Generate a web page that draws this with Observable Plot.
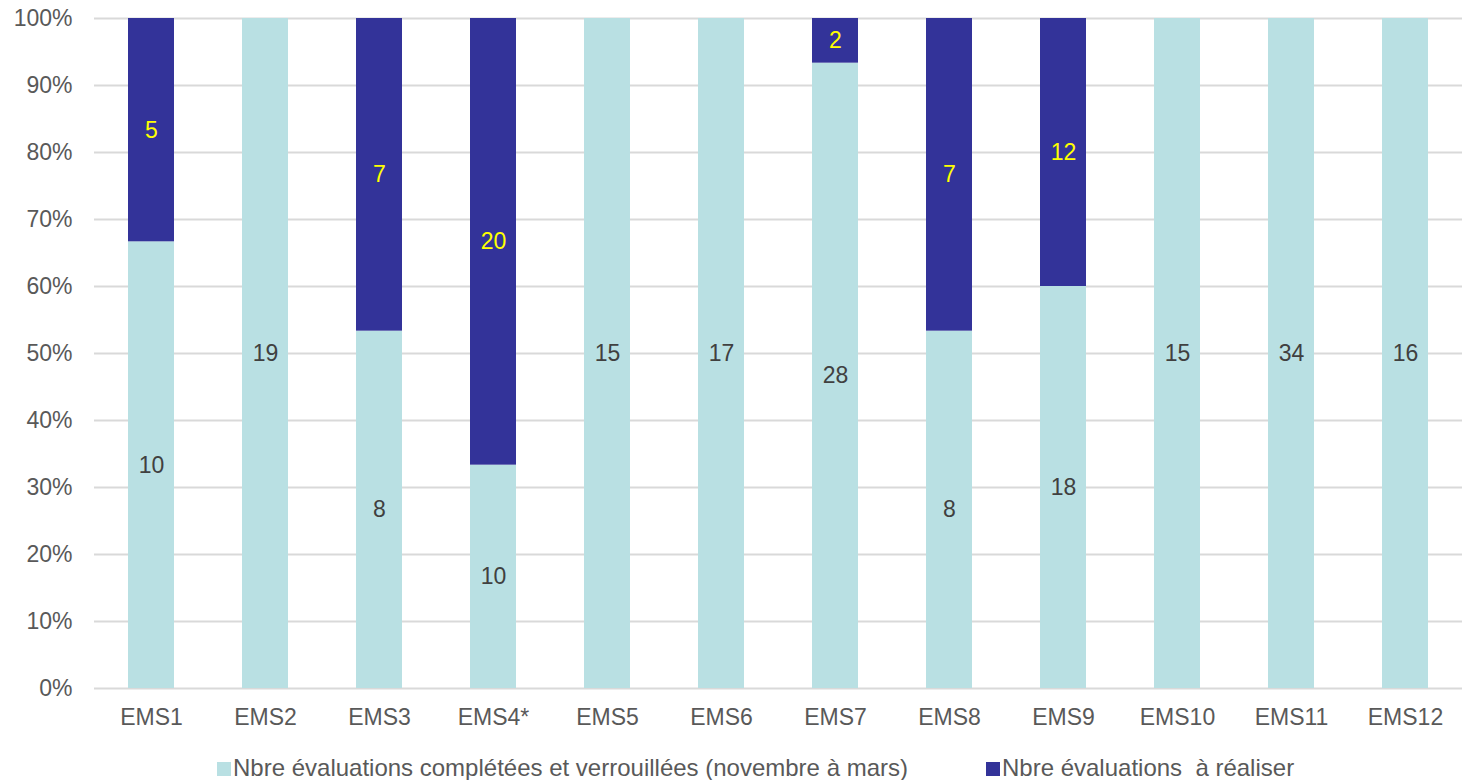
<!DOCTYPE html>
<html>
<head>
<meta charset="utf-8">
<script src="https://cdn.jsdelivr.net/npm/d3@7"></script>
<script src="https://cdn.jsdelivr.net/npm/@observablehq/plot@0.6"></script>
<style>
  body { margin: 0; background: #fff; font-family: "Liberation Sans", Arial, sans-serif; }
  #legend { display: flex; justify-content: flex-start; gap: 78px; font-size: 24px; line-height: 27px; color: #595959; margin-top: 19px; padding-left: 217px; white-space: pre; }
  #legend span.sw { display: inline-block; width: 14px; height: 14px; margin-right: 2px; vertical-align: 0px; }
</style>
</head>
<body>
<div id="chart"></div>
<div id="legend"></div>
<script>
const categories = ["EMS1","EMS2","EMS3","EMS4*","EMS5","EMS6","EMS7","EMS8","EMS9","EMS10","EMS11","EMS12"];
const completed = [10,19,8,10,15,17,28,8,18,15,34,16];
const remaining = [5,0,7,20,0,0,2,7,12,0,0,0];
const seriesNames = ["Nbre évaluations complétées et verrouillées (novembre à mars)", "Nbre évaluations  à réaliser"];
const seriesColors = ["#b9e0e3", "#333399"];
const labelColors = ["#404040", "#ffff00"];
const yTicks = [0,0.1,0.2,0.3,0.4,0.5,0.6,0.7,0.8,0.9,1];

const data = [];
categories.forEach((c, i) => {
  data.push({cat: c, series: seriesNames[0], value: completed[i], order: 0});
  data.push({cat: c, series: seriesNames[1], value: remaining[i], order: 1});
});
const labelData = data.filter(d => d.value > 0);

const chart = Plot.plot({
  width: 1464,
  height: 735,
  marginTop: 18,
  marginBottom: 47,
  marginLeft: 94,
  marginRight: 2,
  style: {fontFamily: "Liberation Sans, Arial, sans-serif", fontSize: "23px", color: "#595959"},
  x: {domain: categories, label: null, paddingInner: 0.6, paddingOuter: 0.3, tickSize: 0, tickPadding: 20},
  y: {domain: [0, 1], ticks: yTicks, tickFormat: d => Math.round(d * 100) + "%", label: null, tickSize: 0, tickPadding: 22},
  color: {domain: seriesNames, range: seriesColors},
  marks: [
    Plot.ruleY(yTicks, {stroke: "#d9d9d9", strokeWidth: 2}),
    Plot.barY(data, Plot.stackY({x: "cat", y: "value", fill: "series", order: "order", offset: "normalize"})),
    Plot.text(labelData, Plot.stackY({x: "cat", y: "value", z: "series", order: "order", offset: "normalize", text: d => String(d.value), fill: d => labelColors[d.order], fontSize: 23})),
  ]
});
document.getElementById("chart").appendChild(chart);

const legend = document.getElementById("legend");
seriesNames.forEach((n, i) => {
  const item = document.createElement("div");
  const sw = document.createElement("span");
  sw.className = "sw";
  sw.style.background = seriesColors[i];
  item.appendChild(sw);
  item.appendChild(document.createTextNode(n));
  legend.appendChild(item);
});
</script>
</body>
</html>
